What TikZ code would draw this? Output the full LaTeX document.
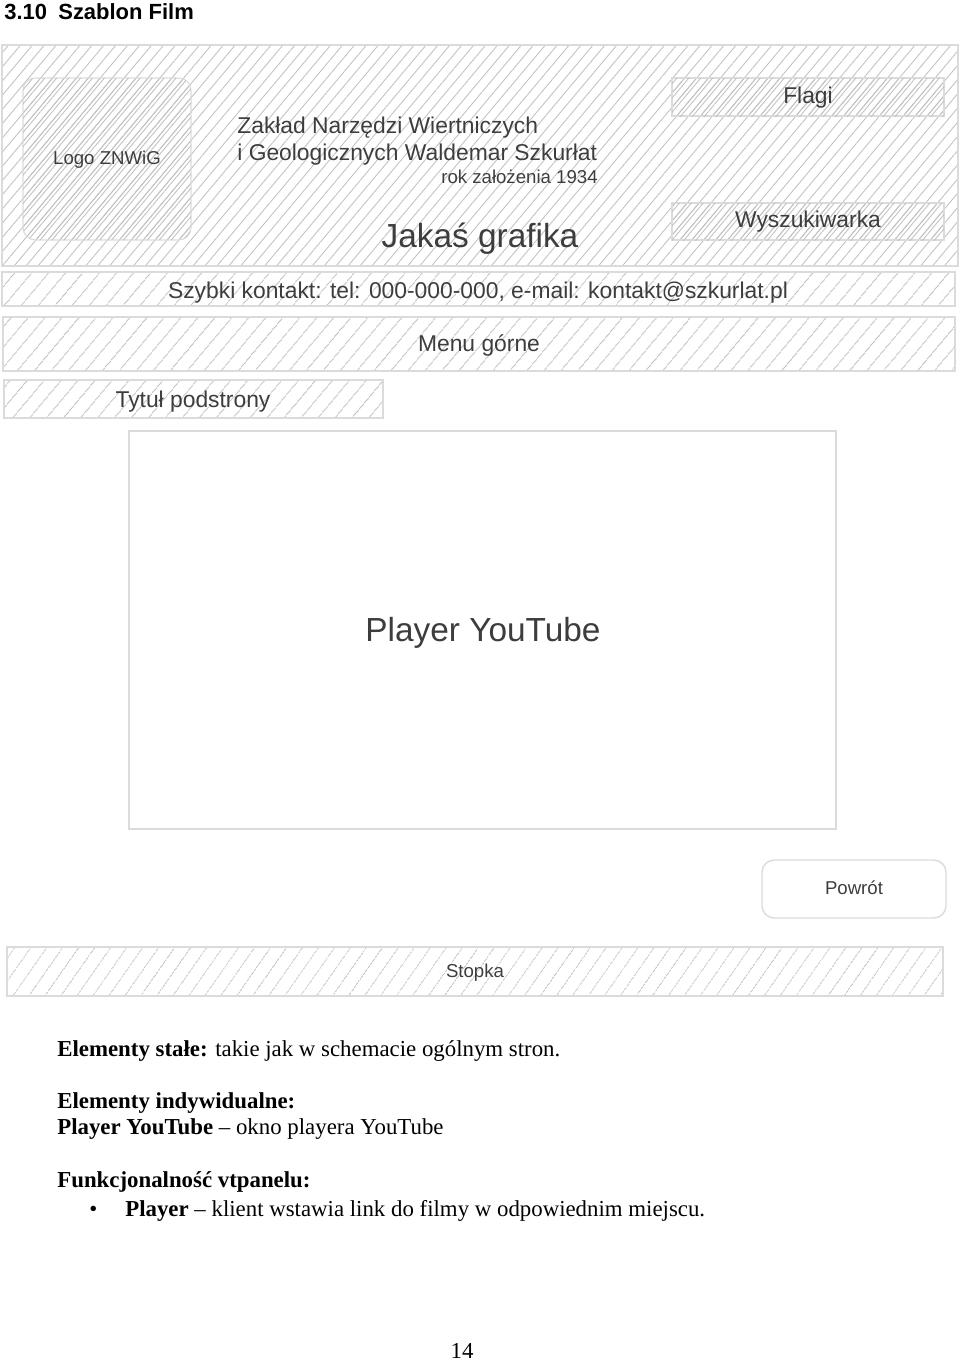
\documentclass[tikz,border=0pt]{standalone}
\usepackage{fontspec}
\setmainfont{Liberation Serif}
\setsansfont{Liberation Sans}
\usepackage{tikz}
\usetikzlibrary{patterns.meta}
\usepackage{xcolor}

\definecolor{hatch}{gray}{0.76}
\definecolor{boxline}{gray}{0.86}
\definecolor{labelgray}{gray}{0.24}

\tikzset{
  hatchbox/.style={draw=boxline, line width=0.6pt, pattern color=hatch,
    pattern={Lines[angle=#1, distance=7.4pt, line width=0.5pt]}},
  hatchbox/.default=50,
  densebox/.style={draw=boxline, line width=0.6pt, pattern color=hatch,
    pattern={Lines[angle=50, distance=5.2pt, line width=0.5pt]}},
  overhatch/.style={pattern color=hatch,
    pattern={Lines[angle=50, distance=5.2pt, line width=0.5pt, xshift=2.4pt]}},
  label/.style={font=\sffamily\fontsize{13}{15}\selectfont, text=labelgray, inner sep=0pt},
  smalllabel/.style={font=\sffamily\fontsize{10.6}{13}\selectfont, text=labelgray, inner sep=0pt},
  biglabel/.style={font=\sffamily\fontsize{19}{22}\selectfont, text=labelgray, inner sep=0pt},
  bodytext/.style={font=\fontsize{13}{15}\selectfont, anchor=base west, inner sep=0pt}
}

\begin{document}
\begin{tikzpicture}[x=0.02cm, y=-0.02cm]
            \useasboundingbox (0,0) rectangle (960,1363);

            % Page heading
            \node[font=\sffamily\bfseries\fontsize{12.5}{14}\selectfont, anchor=base west, inner sep=0pt] (secnum) at (4,19) {3.10};
            \node[font=\sffamily\bfseries\fontsize{12.5}{14}\selectfont, anchor=base west, inner sep=0pt] (sectitle) at (58,19) {Szablon Film};

            % Header area
            \draw[densebox] (2,45) rectangle (958,266);
            \draw[densebox, rounded corners=7pt] (23,78) rectangle (191,240);
            \fill[overhatch, rounded corners=7pt] (23,78) rectangle (191,240);
            \draw[densebox] (672,78) rectangle (944,116);
            \fill[overhatch] (672,78) rectangle (944,116);
            \draw[densebox] (672,203) rectangle (944,240);
            \fill[overhatch] (672,203) rectangle (944,240);
            \node[smalllabel] (logo) at (107,160) {Logo ZNWiG};
            \node[label, anchor=base west] (firm1) at (237,133) {Zakład Narzędzi Wiertniczych};
            \node[label, anchor=base west] (firm2) at (237,160) {i Geologicznych Waldemar Szkurłat};
            \node[font=\sffamily\fontsize{10.6}{13}\selectfont, text=labelgray, inner sep=0pt, anchor=base east] (founded) at (598,183) {rok założenia 1934};
            \node[biglabel, anchor=base] (graphic) at (480,247) {Jakaś grafika};
            \node[label] (flags) at (808,98) {Flagi};
            \node[label] (search) at (808,222) {Wyszukiwarka};

            % Contact bar, top menu and page title
            \draw[hatchbox] (2,272) rectangle (955,306);
            \node[label, anchor=base] (contact) at (478,298) {Szybki kontakt: tel: 000-000-000, e-mail: kontakt@szkurlat.pl};
            \draw[hatchbox] (3,317) rectangle (955,371);
            \node[label, anchor=base] (menu) at (479,351) {Menu górne};
            \draw[hatchbox] (4,380) rectangle (383,418);
            \node[label, anchor=base] (subtitle) at (193,407) {Tytuł podstrony};

            % Player window
            \draw[draw=boxline, line width=0.8pt] (129,431) rectangle (836,829);
            \node[biglabel, anchor=base] (player) at (483,641) {Player YouTube};

            % Back button
            \draw[draw=boxline, line width=0.8pt, rounded corners=7pt] (762,860) rectangle (946,918);
            \node[smalllabel, anchor=base] (back) at (854,894) {Powrót};

            % Footer
            \draw[hatchbox=55] (7,947) rectangle (943,996);
            \node[smalllabel, anchor=base] (footer) at (475,977) {Stopka};

            % Description below the template
            \node[bodytext] (fixed) at (57,1056) {\textbf{Elementy stałe:} takie jak w schemacie ogólnym stron.};
            \node[bodytext] (ownhead) at (57,1108) {\textbf{Elementy indywidualne:}};
            \node[bodytext] (owndesc) at (57,1134) {\textbf{Player YouTube} – okno playera YouTube};
            \node[bodytext] (funchead) at (57,1187) {\textbf{Funkcjonalność vtpanelu:}};
            \node[bodytext] (bullet) at (89,1216) {•};
            \node[bodytext] (funcdesc) at (125,1216) {\textbf{Player} – klient wstawia link do filmy w odpowiednim miejscu.};

            % Page number
            \node[font=\fontsize{13}{15}\selectfont, anchor=base, inner sep=0pt] (pagenum) at (462,1358) {14};
        \end{tikzpicture}
\end{document}
